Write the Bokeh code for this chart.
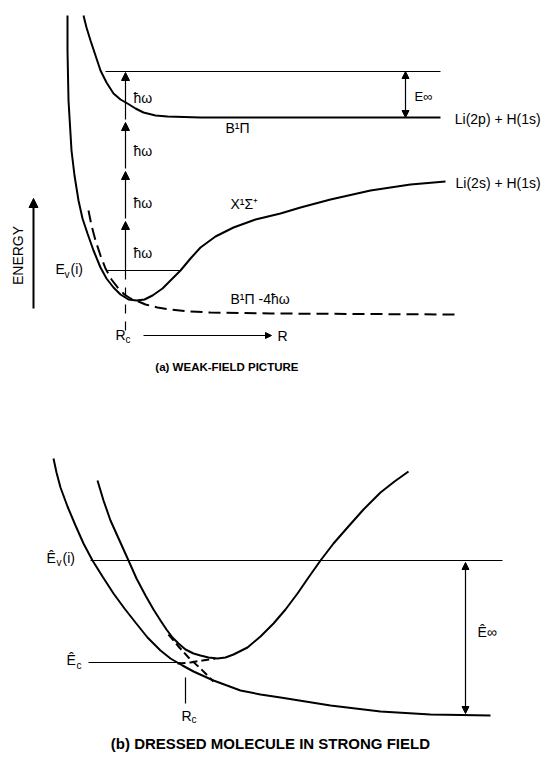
import math
from bokeh.plotting import figure
from bokeh.models import Range1d, Arrow, NormalHead
from bokeh.core.properties import value
from bokeh.embed import file_html
from bokeh.resources import INLINE

# ---------------- panel (a): weak-field picture (R, energy in drawing units; energy grows upward = smaller y) ----
x_sigma_R = [67, 67, 68, 71, 74, 78, 82, 87, 93, 100, 106, 113, 120, 128, 136, 144, 152, 162, 171, 180,
             190, 200, 215, 233, 255, 280, 300, 330, 370, 410, 445]
x_sigma_E = [15, 50, 100, 150, 175, 200, 218, 233, 250, 267, 278, 287, 294, 299, 300, 299, 295, 288, 279, 270,
             258, 247, 236, 227, 219, 213, 207, 199, 190, 184, 181]

b_pi_R = [83, 86, 90, 95, 100, 106, 113, 120, 127, 135, 143, 155, 167, 200, 280, 440]
b_pi_E = [15, 27, 40, 55, 70, 82, 93, 99, 103, 108, 112, 115, 116, 117, 117, 117]

b_pi_minus4_R = [88, 91, 95, 100, 105, 111, 118, 124, 130, 138, 145, 157, 170, 190, 210, 270, 455]
b_pi_minus4_E = [210, 225, 240, 255, 268, 279, 288, 294, 298, 301, 304, 307, 309, 311, 312, 313, 314]

a_Rc = 125
a_Ev = 270
a_top = 71
a_photon_levels = [270, 221, 171, 122, 72]
a_asym_B = 117

# ---------------- panel (b): dressed molecule ----------------
dressed_up_R = [97, 103, 110, 119, 128, 136, 145, 153, 160, 166, 172, 178, 185, 193, 200, 208, 217, 225,
                233, 247, 260, 273, 285, 297, 308, 320, 333, 347, 363, 380, 394, 408]
dressed_up_E = [480, 500, 520, 540, 560, 578, 595, 609, 620, 629, 637, 643, 649, 653, 655, 657, 658, 657,
                654, 647, 636, 623, 609, 593, 577, 560, 543, 527, 509, 492, 481, 471]

dressed_lo_R = [53, 56, 60, 67, 75, 83, 92, 102, 113, 124, 135, 147, 160, 170, 182, 193, 213, 240, 260,
                280, 305, 330, 355, 380, 430, 490]
dressed_lo_E = [458, 472, 487, 506, 525, 543, 560, 576, 593, 608, 622, 637, 650, 658, 665, 671, 680, 690,
                694, 697, 701, 705, 708, 711, 714, 715]

diab1_R = [168, 178, 188, 200, 213]
diab1_E = [634, 646, 657, 668, 681]
diab2_R = [177, 190, 202, 215]
diab2_E = [663, 662, 660, 658]

b_Ev = 560
b_Ec = 662
b_Rc = 185
b_asym = 714

FONT = value("Liberation Sans")

p = figure(width=549, height=764, output_backend="svg", toolbar_location=None,
           x_range=Range1d(0, 549), y_range=Range1d(764, 0), min_border=0)
p.axis.visible = False
p.grid.visible = False
p.outline_line_color = None
p.background_fill_color = "white"
p.border_fill_color = "white"

K = "black"

# curves (a)
p.line(x_sigma_R, x_sigma_E, line_color=K, line_width=2)
p.line(b_pi_R, b_pi_E, line_color=K, line_width=2)
p.line(b_pi_minus4_R, b_pi_minus4_E, line_color=K, line_width=2, line_dash="12 6")

# thin levels (a)
p.segment(x0=[105, 106], y0=[a_top, a_Ev], x1=[440, 180], y1=[a_top, a_Ev], line_color=K, line_width=1)

# photon arrows
head = lambda s=7: NormalHead(size=s, fill_color=K, line_color=K, line_width=1)
for i in range(4):
    y0 = a_photon_levels[i] - (0 if i == 0 else 3)
    y1 = a_photon_levels[i + 1]
    p.add_layout(Arrow(end=head(8), x_start=a_Rc, y_start=y0, x_end=a_Rc, y_end=y1,
                       line_color=K, line_width=1.2))
# dashed vertical below E_v
p.segment(x0=[a_Rc], y0=[a_Ev], x1=[a_Rc], y1=[332], line_color=K, line_width=1.2, line_dash="9 8")

# E_inf arrow
p.add_layout(Arrow(start=head(7), end=head(7), x_start=405, y_start=a_top, x_end=405, y_end=a_asym_B,
                   line_color=K, line_width=1.2))
# energy arrow
p.add_layout(Arrow(end=head(9), x_start=33, y_start=308, x_end=33, y_end=198, line_color=K, line_width=2))
# R arrow
p.add_layout(Arrow(end=head(6), x_start=143, y_start=335, x_end=271, y_end=335, line_color=K, line_width=1))

# texts (a)
def txt(x, y, s, size="14px", align="left", style="normal", angle=0.0):
    p.text(x=[x], y=[y], text=[s], text_font=FONT, text_font_size=size, text_align=align,
           text_baseline="middle", text_color=K, text_font_style=style, angle=angle)

txt(133, 97, "ħω")
txt(133, 150, "ħω")
txt(133, 202, "ħω")
txt(133, 252, "ħω")
txt(414, 96, "E∞", size="13px")
txt(548, 118, "Li(2p)  +  H(1s)", align="right")
txt(548, 182, "Li(2s)  +  H(1s)", align="right")
txt(225, 127, "B¹Π")
txt(230, 203, "X¹Σ⁺")
txt(230, 298, "B¹Π -4ħω")
txt(55, 268, "E")
txt(64, 274, "v", size="10px")
txt(70, 268, "(i)")
txt(115, 334, "R")
txt(125, 339, "c", size="10px")
txt(277, 335, "R")
txt(17, 255, "ENERGY", align="center", angle=math.pi / 2)
txt(228, 366, "(a)  WEAK-FIELD PICTURE", size="11.5px", align="center", style="bold")

# curves (b)
p.line(dressed_up_R, dressed_up_E, line_color=K, line_width=2)
p.line(dressed_lo_R, dressed_lo_E, line_color=K, line_width=2)
p.line(diab1_R, diab1_E, line_color=K, line_width=2, line_dash="8 4")
p.line(diab2_R, diab2_E, line_color=K, line_width=2, line_dash="8 4")

p.segment(x0=[90, 88], y0=[b_Ev, b_Ec], x1=[502, 180], y1=[b_Ev, b_Ec], line_color=K, line_width=1)
p.segment(x0=[b_Rc], y0=[677], x1=[b_Rc], y1=[703], line_color=K, line_width=1.2)
p.add_layout(Arrow(start=head(7), end=head(7), x_start=465, y_start=b_Ev + 2, x_end=465, y_end=b_asym - 1,
                   line_color=K, line_width=1.2))

txt(46, 557, "Ê")
txt(56, 562, "v", size="10px")
txt(62, 557, "(i)")
txt(66, 659, "Ê")
txt(76, 665, "c", size="10px")
txt(477, 631, "Ê∞", size="14px")
txt(181, 715, "R")
txt(191, 719, "c", size="10px")
txt(272, 743, "(b)  DRESSED MOLECULE IN STRONG FIELD", size="15px", align="center", style="bold")

open("out.html", "w").write(file_html(p, INLINE))
